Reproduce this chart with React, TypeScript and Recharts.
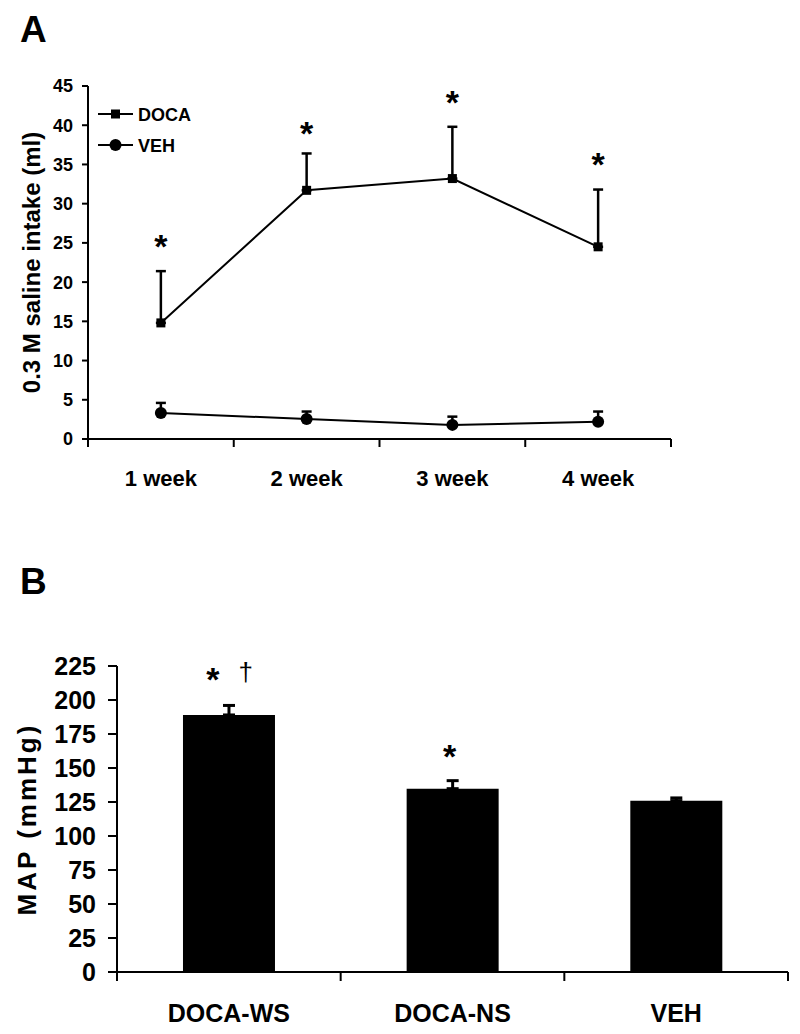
import React from 'react';
import {
  ComposedChart,
  BarChart,
  Bar,
  Line,
  XAxis,
  YAxis,
  ErrorBar,
  ReferenceDot,
  Legend,
} from 'recharts';

// ---------- Panel A data ----------
const weeks = ['1 week', '2 week', '3 week', '4 week'];
const docaIntake = [14.8, 31.7, 33.2, 24.5];
const docaSem = [6.6, 4.7, 6.6, 7.3];
const vehIntake = [3.3, 2.55, 1.8, 2.2];
const vehSem = [1.3, 0.95, 1.05, 1.3];
const docaStarY = [25.6, 40.0, 43.9, 36.0];
const intakeTicks = [0, 5, 10, 15, 20, 25, 30, 35, 40, 45];
const seriesNames = ['DOCA', 'VEH'];

// ---------- Panel B data ----------
const groups = ['DOCA-WS', 'DOCA-NS', 'VEH'];
const mapValues = [189, 134.8, 126];
const mapSem = [7, 5.9, 2];
const mapMarks = ['*', '*', ''];
const mapDagger = ['†', '', ''];
const mapMarkY = [220.6, 164, null];
const mapTicks = [0, 25, 50, 75, 100, 125, 150, 175, 200, 225];

const FONT = '"Liberation Sans", Arial, Helvetica, sans-serif';

const intakeData = weeks.map((w, i) => ({
  week: w,
  doca: docaIntake[i],
  docaErr: [0, docaSem[i]],
  veh: vehIntake[i],
  vehErr: [0, vehSem[i]],
}));

const mapData = groups.map((g, i) => ({
  group: g,
  map: mapValues[i],
  mapErr: [0, mapSem[i]],
}));

// layout constants
const A_LEFT = 88;
const A_RIGHT = 671;
const A_TOP = 86;
const A_BOTTOM = 439;
const A_H = 520;

const B_TOP_OFFSET = 540;
const B_LEFT = 117;
const B_RIGHT = 788;
const B_PLOT_TOP = 666;
const B_PLOT_BOTTOM = 972;
const B_H = 494;

const makeXTick =
  (half: number, len: number, fontSize: number, baseline: number, last: string) =>
  (props: any) => {
    const { x, y, payload } = props;
    return (
      <g>
        <line x1={x - half} y1={y} x2={x - half} y2={y + len} stroke="#000" strokeWidth={2} />
        {payload.value === last && (
          <line x1={x + half} y1={y} x2={x + half} y2={y + len} stroke="#000" strokeWidth={2} />
        )}
        <text
          x={x}
          y={y + baseline}
          textAnchor="middle"
          fontSize={fontSize}
          fontWeight="bold"
          fontFamily={FONT}
          fill="#000"
        >
          {payload.value}
        </text>
      </g>
    );
  };

const SquareDot = (props: any) => {
  const { cx, cy, index } = props;
  if (cx == null || cy == null) return <g key={index} />;
  return <rect key={index} x={cx - 4.5} y={cy - 4.5} width={9} height={9} fill="#000" />;
};

const CircleDot = (props: any) => {
  const { cx, cy, index } = props;
  if (cx == null || cy == null) return <g key={index} />;
  return <circle key={index} cx={cx} cy={cy} r={6} fill="#000" />;
};

const LegendBox = () => (
  <svg width={120} height={60}>
    {seriesNames.map((n, i) => {
      const cy = 14 + i * 31;
      return (
        <g key={n}>
          <line x1={2} y1={cy} x2={37} y2={cy} stroke="#000" strokeWidth={2} />
          {i === 0 ? (
            <rect x={15} y={cy - 4.5} width={9} height={9} fill="#000" />
          ) : (
            <circle cx={19.5} cy={cy} r={6} fill="#000" />
          )}
          <text
            x={42}
            y={cy + 6.5}
            fontSize={18}
            fontWeight="bold"
            fontFamily={FONT}
            fill="#000"
          >
            {n}
          </text>
        </g>
      );
    })}
  </svg>
);

const starShape = (fontSize: number, text: string, dx = 0) => (p: any) => {
  const { cx, cy } = p;
  if (cx == null || cy == null) return <g />;
  return (
    <text
      x={cx + dx}
      y={cy + fontSize * 0.57}
      textAnchor="middle"
      fontSize={fontSize}
      fontWeight="bold"
      fontFamily={FONT}
      fill="#000"
    >
      {text}
    </text>
  );
};

const daggerShape = (fontSize: number, dx: number) => (p: any) => {
  const { cx, cy } = p;
  if (cx == null || cy == null) return <g />;
  return (
    <text
      x={cx + dx}
      y={cy + fontSize * 0.36}
      textAnchor="middle"
      fontSize={fontSize}
      fontFamily={FONT}
      fill="#000"
    >
      †
    </text>
  );
};

const yLabel = (text: string, x: number, fontSize: number, spacing = 0) => (props: any) => {
  const vb = props.viewBox || {};
  const cy = (vb.y || 0) + (vb.height || 0) / 2;
  return (
    <text
      x={x}
      y={cy}
      transform={`rotate(-90, ${x}, ${cy})`}
      textAnchor="middle"
      dominantBaseline="central"
      fontSize={fontSize}
      fontWeight="bold"
      fontFamily={FONT}
      letterSpacing={spacing}
      fill="#000"
    >
      {text}
    </text>
  );
};

const panelLabel = (text: string, top: number) => (
  <div
    style={{
      position: 'absolute',
      left: 20,
      top,
      fontFamily: FONT,
      fontWeight: 'bold',
      fontSize: 37,
      lineHeight: '37px',
      color: '#000',
    }}
  >
    {text}
  </div>
);

export default function App() {
  const aHalf = (A_RIGHT - A_LEFT) / (2 * weeks.length);
  const bHalf = (B_RIGHT - B_LEFT) / (2 * groups.length);
  return (
    <div
      style={{
        position: 'absolute',
        left: 0,
        top: 0,
        width: 800,
        height: 1034,
        background: '#fff',
        overflow: 'hidden',
      }}
    >
      {panelLabel('A', 11)}
      {panelLabel('B', 563)}

      <div style={{ position: 'absolute', left: 0, top: 0 }}>
        <ComposedChart
          width={800}
          height={A_H}
          data={intakeData}
          margin={{ top: A_TOP, right: 800 - A_RIGHT, bottom: 21, left: 0 }}
        >
          <XAxis
            dataKey="week"
            height={A_H - A_BOTTOM - 21}
            axisLine={{ stroke: '#000', strokeWidth: 2 }}
            tickLine={false}
            tickSize={0}
            tickMargin={0}
            interval={0}
            padding={{ left: aHalf, right: aHalf }}
            tick={makeXTick(aHalf, 8, 22, 47, weeks[weeks.length - 1])}
          />
          <YAxis
            width={A_LEFT}
            domain={[0, 45]}
            ticks={intakeTicks}
            interval={0}
            axisLine={{ stroke: '#000', strokeWidth: 2 }}
            tickLine={{ stroke: '#000', strokeWidth: 2 }}
            tickSize={6}
            tickMargin={9}
            tick={{ fill: '#000', fontSize: 18, fontWeight: 'bold', fontFamily: FONT }}
            label={yLabel('0.3 M saline intake (ml)', 31, 24)}
          />
          <Legend
            layout="vertical"
            align="center"
            verticalAlign="middle"
            wrapperStyle={{ left: 96, top: 100, width: 120, height: 60 }}
            content={() => <LegendBox />}
          />
          <Line
            dataKey="doca"
            name={seriesNames[0]}
            stroke="#000"
            strokeWidth={2}
            dot={SquareDot}
            activeDot={false}
            isAnimationActive={false}
          >
            <ErrorBar dataKey="docaErr" direction="y" width={5} stroke="#000" strokeWidth={2.5} />
          </Line>
          <Line
            dataKey="veh"
            name={seriesNames[1]}
            stroke="#000"
            strokeWidth={2}
            dot={CircleDot}
            activeDot={false}
            isAnimationActive={false}
          >
            <ErrorBar dataKey="vehErr" direction="y" width={5} stroke="#000" strokeWidth={2.5} />
          </Line>
          {weeks.map((w, i) => (
            <ReferenceDot
              key={w}
              x={w}
              y={docaStarY[i]}
              r={0}
              ifOverflow="visible"
              shape={starShape(34, '*')}
            />
          ))}
        </ComposedChart>
      </div>

      <div style={{ position: 'absolute', left: 0, top: B_TOP_OFFSET }}>
        <BarChart
          width={800}
          height={B_H}
          data={mapData}
          margin={{
            top: B_PLOT_TOP - B_TOP_OFFSET,
            right: 800 - B_RIGHT,
            bottom: 12,
            left: 0,
          }}
          barCategoryGap="29.5%"
        >
          <XAxis
            dataKey="group"
            height={B_H - (B_PLOT_BOTTOM - B_TOP_OFFSET) - 12}
            axisLine={{ stroke: '#000', strokeWidth: 2 }}
            tickLine={false}
            tickSize={0}
            tickMargin={0}
            interval={0}
            tick={makeXTick(bHalf, 9, 25, 50, groups[groups.length - 1])}
          />
          <YAxis
            width={B_LEFT}
            domain={[0, 225]}
            ticks={mapTicks}
            interval={0}
            axisLine={{ stroke: '#000', strokeWidth: 2 }}
            tickLine={{ stroke: '#000', strokeWidth: 2 }}
            tickSize={9}
            tickMargin={12}
            tick={{ fill: '#000', fontSize: 25, fontWeight: 'bold', fontFamily: FONT }}
            label={yLabel('MAP (mmHg)', 27, 26, 3)}
          />
          <Bar dataKey="map" fill="#000" isAnimationActive={false}>
            <ErrorBar dataKey="mapErr" direction="y" width={6} stroke="#000" strokeWidth={3} />
          </Bar>
          {groups.map((g, i) =>
            mapMarkY[i] == null ? null : (
              <ReferenceDot
                key={g}
                x={g}
                y={mapMarkY[i] as number}
                r={0}
                ifOverflow="visible"
                shape={starShape(34, mapMarks[i], mapDagger[i] ? -16 : -3)}
              />
            )
          )}
          {groups.map((g, i) =>
            mapDagger[i] && mapMarkY[i] != null ? (
              <ReferenceDot
                key={g + '-dagger'}
                x={g}
                y={mapMarkY[i] as number}
                r={0}
                ifOverflow="visible"
                shape={daggerShape(26, 17)}
              />
            ) : null
          )}
        </BarChart>
      </div>
    </div>
  );
}
